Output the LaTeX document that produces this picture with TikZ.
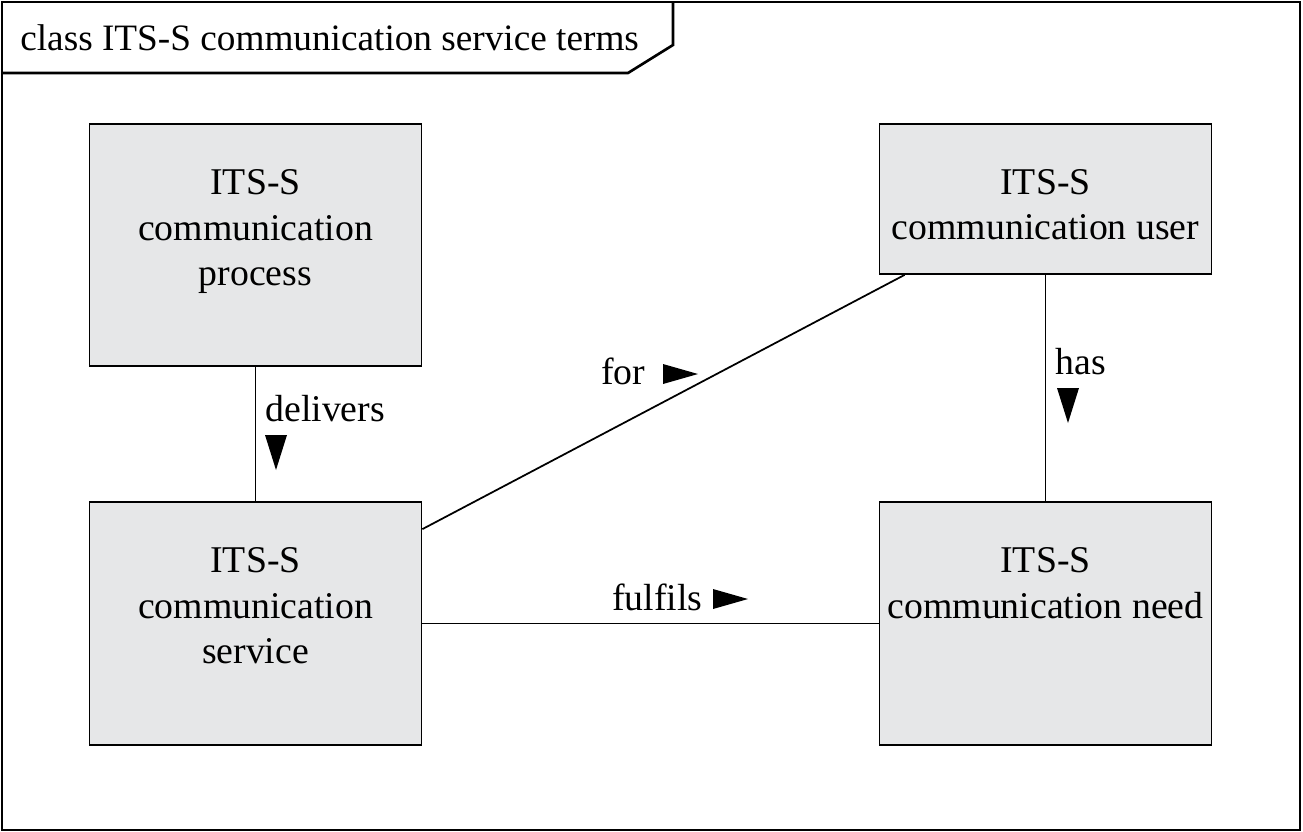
\documentclass[tikz,border=0pt]{standalone}
\usepackage{fontspec}
\setmainfont{Liberation Serif}
\usetikzlibrary{calc}

\definecolor{boxgray}{HTML}{E6E7E8}

\tikzset{
  termbox/.style={draw, fill=boxgray, line width=1pt, minimum width=6.64cm},
  termtext/.style={align=center, anchor=north, inner sep=0pt},
  assoc/.style={line width=1pt},
  rolename/.style={anchor=base west, inner sep=0pt},
}

% direction marks of the association names
\newcommand{\navdown}[1]{\fill (#1) ++(-11,0) -- ++(22,0) -- ++(-11,35) -- cycle;}
\newcommand{\navright}[1]{\fill (#1) ++(0,-10) -- ++(35,10) -- ++(-35,10) -- cycle;}

\begin{document}
\begin{tikzpicture}[x=0.02cm, y=-0.02cm,
    every node/.style={font=\fontsize{21.5}{25.9}\selectfont}]
  \useasboundingbox (0,0) rectangle (1303,832);

  % frame and its name tab
  \draw[line width=1.5pt] (2,2) rectangle (1300,830);
  \draw[line width=1.5pt] (673,2) -- (673,45) -- (628,73) -- (2,73);
  \node[rolename, font=\fontsize{21.2}{25.9}\selectfont] (title) at (20,50) {class ITS-S communication service terms};

  % classes
  \node[termbox, minimum height=4.84cm] (process) at (255.5,245) {};
  \node[termbox, minimum height=3cm] (user) at (1045.5,199) {};
  \node[termbox, minimum height=4.86cm] (service) at (255.5,623.5) {};
  \node[termbox, minimum height=4.86cm] (need) at (1045.5,623.5) {};

  \node[termtext] (processtext) at ([yshift=-0.92cm]process.north) {ITS-S\\communication\\process};
  \node[termtext] (usertext) at ([yshift=-0.92cm]user.north) {ITS-S\\communication user};
  \node[termtext] (servicetext) at ([yshift=-0.92cm]service.north) {ITS-S\\communication\\service};
  \node[termtext] (needtext) at ([yshift=-0.92cm]need.north) {ITS-S\\communication need};

  % associations
  \coordinate (userfor) at ($(user.south west)+(26,0)$);
  \coordinate (servicefor) at ($(service.north east)+(0,28)$);
  \draw[assoc] (process) -- (service);
  \draw[assoc] (user) -- (need);
  \draw[assoc] (service) -- (need);
  \draw[assoc] (userfor) -- (servicefor);

  % association names
  \node[rolename] (delivers) at (265,421) {delivers};
  \navdown{276,435}
  \node[rolename] (for) at (601,384) {for};
  \navright{663,374}
  \node[rolename] (has) at (1055,374) {has};
  \navdown{1068,388}
  \node[rolename] (fulfils) at (612,610) {fulfils};
  \navright{713,599}
\end{tikzpicture}
\end{document}
